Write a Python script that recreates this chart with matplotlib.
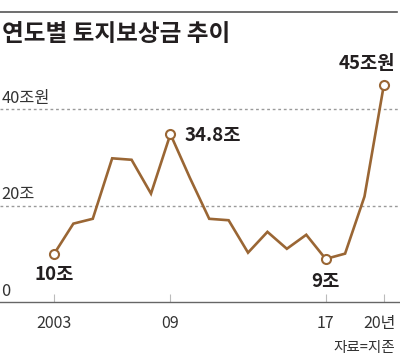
import matplotlib
matplotlib.use("Agg")
import matplotlib.pyplot as plt

plt.rcParams['font.family'] = ['Noto Sans CJK KR', 'DejaVu Sans']

years = list(range(2003, 2021))
values = [10.0, 16.3, 17.3, 29.8, 29.5, 22.5, 34.8, 25.8, 17.3, 17.0,
          10.3, 14.6, 11.1, 14.0, 9.0, 10.1, 21.9, 45.0]
tick_years = [2003, 2009, 2017, 2020]
tick_labels = ['2003', '09', '17', '20년']
grid_values = [0, 20, 40]
grid_labels = ['0', '20조', '40조원']
highlight_years = [2003, 2009, 2017, 2020]
highlight_labels = ['10조', '34.8조', '9조', '45조원']

title = '연도별 토지보상금 추이'
source = '자료=지존'

line_color = '#9A6634'
text_color = '#231f20'

fig = plt.figure(figsize=(4.0, 3.56), dpi=100)
ax = fig.add_axes([0.0, 0.1503, 1.0, 0.6795])
ax.set_xlim(2000.22, 2020.83)
ax.set_ylim(0, 50)

# gridlines and y labels
for v, lab in zip(grid_values, grid_labels):
    if v > 0:
        ax.axhline(v, color='#9a9a9a', lw=1.0, ls=(0, (2, 2)), zorder=1)
    ax.text(2000.3, v + 1.3, lab, ha='left', va='baseline', fontsize=11.8,
            color='#333333')

ax.plot(years, values, color=line_color, lw=1.9, zorder=3,
        solid_joinstyle='miter')

hx = [years.index(y) for y in highlight_years]
ax.plot([years[i] for i in hx], [values[i] for i in hx], 'o', ms=6.5,
        mfc='white', mec=line_color, mew=1.5, zorder=4)

offsets = [((0, -18.7), 'center'), ((10, -5), 'left'),
           ((0, -20), 'center'), ((8, 11.5), 'right')]
for i, lab, (off, ha) in zip(hx, highlight_labels, offsets):
    ax.annotate(lab, (years[i], values[i]), xytext=off,
                textcoords='offset points', ha=ha, va='baseline',
                fontsize=13.5, fontweight='bold', color=text_color,
                annotation_clip=False)

for s in ['left', 'right', 'top']:
    ax.spines[s].set_visible(False)
ax.spines['bottom'].set_color('#666666')
ax.spines['bottom'].set_linewidth(1.0)
ax.set_yticks([])
ax.set_xticks(tick_years)
ax.set_xticklabels(tick_labels[:-1] + [''], fontsize=11.5, color='#333333')
ax.tick_params(axis='x', direction='in', length=6, width=0.8,
               color='#bbbbbb', pad=9)
# last tick label, nudged left like the reference
ax.annotate(tick_labels[-1], (tick_years[-1], 0), xytext=(-3.3, -9),
            textcoords='offset points', ha='center', va='top',
            fontsize=11.5, color='#333333', annotation_clip=False)
ax.patch.set_alpha(0)

# top rule and title
fig.add_artist(plt.Line2D([0.0, 0.993], [0.966, 0.966], color='#555555',
                          lw=1.2))
fig.text(0.005, 0.9045, title, ha='left', va='center', fontsize=17,
         fontweight='bold', color=text_color)
fig.text(0.9875, 0.022, source, ha='right', va='center', fontsize=10.5,
         color='#333333')

fig.savefig('out.png', dpi=100)
